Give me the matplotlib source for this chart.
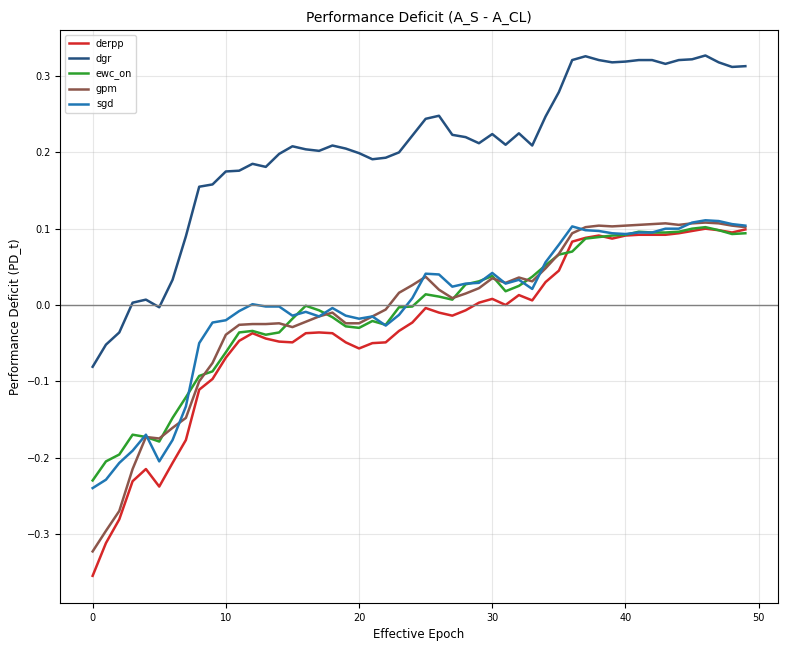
import numpy as np
import matplotlib
matplotlib.use("Agg")
import matplotlib.pyplot as plt

epochs = np.arange(50)

derpp = [-0.355, -0.312, -0.281, -0.231, -0.215, -0.238, -0.207, -0.177, -0.111, -0.097,
         -0.069, -0.047, -0.037, -0.044, -0.048, -0.049, -0.037, -0.036, -0.037, -0.049,
         -0.057, -0.050, -0.049, -0.034, -0.023, -0.004, -0.010, -0.014, -0.007, 0.003,
         0.008, -0.000, 0.013, 0.006, 0.030, 0.045, 0.083, 0.088, 0.091, 0.087,
         0.091, 0.092, 0.092, 0.092, 0.094, 0.097, 0.100, 0.098, 0.095, 0.099]
dgr = [-0.081, -0.052, -0.036, 0.003, 0.007, -0.003, 0.033, 0.090, 0.155, 0.158,
       0.175, 0.176, 0.185, 0.181, 0.198, 0.208, 0.204, 0.202, 0.209, 0.205,
       0.199, 0.191, 0.193, 0.200, 0.222, 0.244, 0.248, 0.223, 0.220, 0.212,
       0.224, 0.210, 0.225, 0.209, 0.247, 0.279, 0.321, 0.326, 0.321, 0.318,
       0.319, 0.321, 0.321, 0.316, 0.321, 0.322, 0.327, 0.318, 0.312, 0.313]
ewc_on = [-0.230, -0.205, -0.196, -0.170, -0.173, -0.179, -0.148, -0.121, -0.093, -0.087,
          -0.062, -0.036, -0.034, -0.039, -0.036, -0.018, -0.001, -0.007, -0.016, -0.028,
          -0.030, -0.021, -0.026, -0.003, -0.002, 0.014, 0.011, 0.007, 0.027, 0.031,
          0.038, 0.018, 0.025, 0.037, 0.052, 0.066, 0.070, 0.087, 0.089, 0.091,
          0.092, 0.096, 0.095, 0.095, 0.096, 0.100, 0.102, 0.098, 0.093, 0.094]
gpm = [-0.323, -0.296, -0.270, -0.215, -0.173, -0.175, -0.161, -0.148, -0.100, -0.076,
       -0.039, -0.026, -0.025, -0.025, -0.024, -0.029, -0.022, -0.015, -0.010, -0.024,
       -0.024, -0.015, -0.006, 0.016, 0.026, 0.037, 0.020, 0.009, 0.015, 0.022,
       0.035, 0.029, 0.036, 0.031, 0.048, 0.067, 0.094, 0.102, 0.104, 0.103,
       0.104, 0.105, 0.106, 0.107, 0.105, 0.107, 0.108, 0.107, 0.104, 0.102]
sgd = [-0.240, -0.229, -0.207, -0.191, -0.170, -0.205, -0.177, -0.133, -0.050, -0.023,
       -0.020, -0.008, 0.001, -0.002, -0.002, -0.014, -0.009, -0.015, -0.004, -0.014,
       -0.018, -0.015, -0.027, -0.013, 0.009, 0.041, 0.040, 0.024, 0.028, 0.029,
       0.042, 0.028, 0.033, 0.021, 0.056, 0.079, 0.103, 0.098, 0.097, 0.094,
       0.093, 0.095, 0.095, 0.100, 0.100, 0.108, 0.111, 0.110, 0.106, 0.104]

series = {
    "derpp": (derpp, "#d62728"),
    "dgr": (dgr, "#24507f"),
    "ewc_on": (ewc_on, "#2ca02c"),
    "gpm": (gpm, "#8c564b"),
    "sgd": (sgd, "#1f77b4"),
}

fig = plt.figure(figsize=(7.93, 6.47), dpi=100)
ax = fig.add_axes([60 / 793, 1 - 603 / 647, 718 / 793, 573 / 647])

for name, (vals, color) in series.items():
    ax.plot(epochs, vals, color=color, lw=1.8, label=name)

ax.axhline(0, color="gray", lw=1.0)
ax.grid(True, alpha=0.3)
ax.set_xlim(-2.45, 51.45)
ax.set_ylim(-0.3906, 0.3604)
ax.tick_params(labelsize=7)
ax.set_title("Performance Deficit (A_S - A_CL)", fontsize=10)
ax.set_xlabel("Effective Epoch", fontsize=8.5)
ax.set_ylabel("Performance Deficit (PD_t)", fontsize=8.5)
ax.legend(loc="upper left", fontsize=7)

fig.savefig("out.png", dpi=100)
